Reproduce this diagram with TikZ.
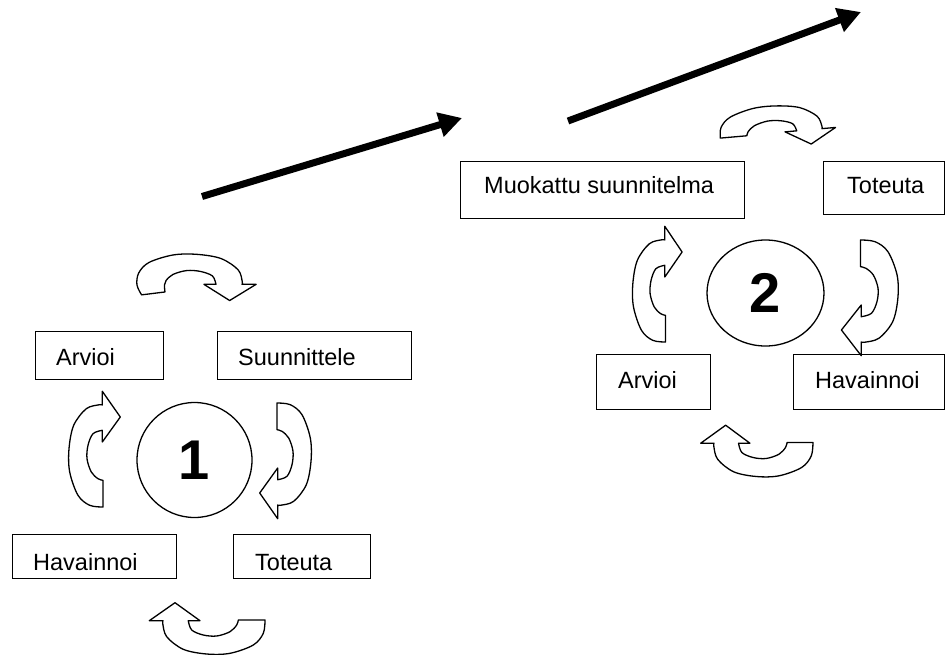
\documentclass[tikz,border=0pt]{standalone}
\usepackage{fontspec}
\setmainfont{Liberation Sans}
\usetikzlibrary{arrows.meta,shapes.geometric}

\tikzset{
  box/.style={draw, line width=1.3pt, rectangle, inner sep=0pt, anchor=north west},
  lbl/.style={anchor=base west, inner sep=0pt, font=\fontsize{23.5}{28}\selectfont},
  ring/.style={draw, line width=1.3pt, inner sep=0pt, font=\fontsize{56}{60}\selectfont\bfseries},
  curlarrow/.style={draw, line width=1.3pt, fill=white, line join=round},
  progress/.style={line width=7pt, -{Triangle[length=23pt,width=24pt]}},
}

% Curved block arrow: #1,#2 centre, #3 rotation, #4 scale along the arc,
% #5 scale across it, #6 extra outer tail points, #7 extra inner tail points
\newcommand\turnarrow[7]{%
  \begin{scope}[shift={(#1,#2)}, rotate=#3, xscale=#4, yscale=#5]
    \draw[curlarrow] plot[smooth, tension=0.55] coordinates {#6 (-51.5,0.5) (-49.8,-12.8) (-39.8,-24.5)
        (-16.5,-32.8) (6.8,-33.5) (30.2,-28.8) (46.8,-16.2) (50.8,-2.8) (50.5,-0.2)}
      -- (64.2,-0.2) -- (38.5,17.8) -- (13.5,-0.2)
      -- plot[smooth, tension=0.55] coordinates {(25.2,-0.2) (21.8,-9.5) (10.2,-14.5)
        (-3.2,-15.5) (-16.5,-11.2) (-23.2,-4.5) (-24.8,0.5) #7}
      -- cycle;
  \end{scope}}

\begin{document}
\begin{tikzpicture}[x=1pt, y=1pt, yscale=-1]
  \useasboundingbox (0,0) rectangle (945,654);

  % ---- progress arrows ----
  \coordinate (p1s) at (202,196.5);
  \coordinate (p1e) at (462,118);
  \coordinate (p2s) at (568,121);
  \coordinate (p2e) at (861,12);
  \draw[progress] (p1s) -- (p1e);
  \draw[progress] (p2s) -- (p2e);

  % ---- first cycle ----
  \node[ring, circle, minimum size=115pt] (c1) at (194.5,460) {1};

  \node[box, minimum width=128pt, minimum height=48pt] (a1box) at (35,331) {};
  \node[lbl] (a1) at (56,365) {Arvioi};
  \node[box, minimum width=194pt, minimum height=48pt] (s1box) at (217,331) {};
  \node[lbl] (s1) at (238,365) {Suunnittele};
  \node[box, minimum width=164pt, minimum height=44pt] (h1box) at (12,534) {};
  \begin{scope}
    \clip (12,534) rectangle (176,570.4);
    \node[lbl] (h1) at (33,570) {Havainnoi};
  \end{scope}
  \node[box, minimum width=137pt, minimum height=44pt] (t1box) at (233,534) {};
  \begin{scope}
    \clip (233,534) rectangle (370,570.4);
    \node[lbl] (t1) at (255,570) {Toteuta};
  \end{scope}

  \turnarrow{190}{284.5}{0}{1.03}{0.9}{(-47,11.5)}{(-24.3,8.3)}
  \turnarrow{277.5}{454.5}{90}{1}{1}{}{}
  \turnarrow{213.5}{620.5}{180}{1}{1}{}{}
  \turnarrow{102.5}{455.5}{270}{1}{1}{}{}

  % ---- second cycle ----
  \node[ring, ellipse, minimum width=117pt, minimum height=106pt] (c2) at (765.5,293) {2};

  \node[box, minimum width=284pt, minimum height=57pt] (m2box) at (460,161) {};
  \node[lbl] (m2) at (484,193.5) {Muokattu suunnitelma};
  \node[box, minimum width=121pt, minimum height=53pt] (t2box) at (823,161) {};
  \node[lbl] (t2) at (847,193.5) {Toteuta};
  \node[box, minimum width=114pt, minimum height=55pt] (a2box) at (596,354) {};
  \node[lbl] (a2) at (618,388) {Arvioi};
  \node[box, minimum width=151pt, minimum height=55pt] (h2box) at (793,354) {};
  \node[lbl] (h2) at (815,388) {Havainnoi};

  \turnarrow{771.6}{133.2}{-5}{1}{0.8}{}{}
  \turnarrow{861}{291.5}{90}{1}{1.1}{}{}
  \turnarrow{763}{443}{180}{0.97}{1}{}{}
  \turnarrow{665}{290.5}{270}{1}{0.96}{}{}
\end{tikzpicture}
\end{document}
